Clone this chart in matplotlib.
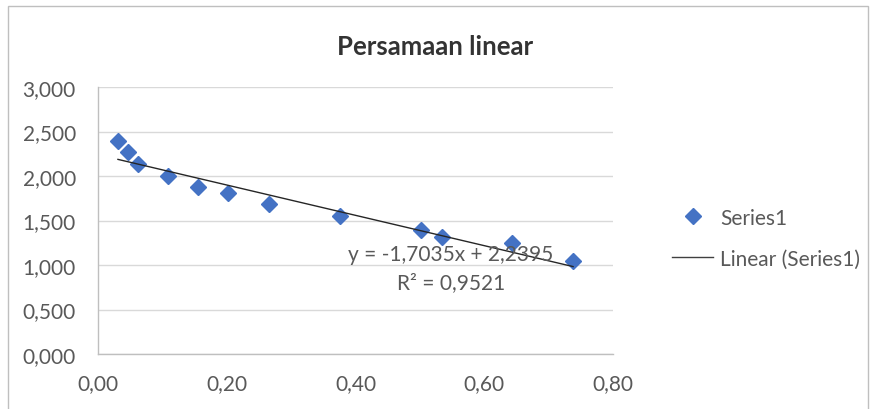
import matplotlib
matplotlib.use("Agg")
import matplotlib.pyplot as plt
from matplotlib.lines import Line2D
from matplotlib.patches import Rectangle
from matplotlib.ticker import FuncFormatter
import numpy as np

plt.rcParams['font.family'] = ['Lato', 'DejaVu Sans']

x_vals = [0.031, 0.047, 0.062, 0.109, 0.155, 0.202, 0.266, 0.376, 0.502, 0.534, 0.643, 0.738]
y_vals = [2.393, 2.270, 2.135, 2.000, 1.876, 1.809, 1.685, 1.551, 1.393, 1.315, 1.247, 1.045]
slope = -1.7035
intercept = 2.2395
eq_text = "y = -1,7035x + 2,2395"
r2_text = "R² = 0,9521"
title = "Persamaan linear"
series_name = "Series1"
trend_name = "Linear (Series1)"

W, H = 873, 410
fig = plt.figure(figsize=(W/100, H/100), dpi=100)
fig.patches.append(Rectangle((8/W, -0.05), (868-8)/W, 1.05 - 7/H, transform=fig.transFigure,
                             fill=False, edgecolor='#bfbfbf', linewidth=1.0))
ax = fig.add_axes([98/W, 1-355/H, (613-98)/W, (355-88)/H])

ax.set_xlim(0, 0.8)
ax.set_ylim(0, 3.0)
ax.set_xticks(np.arange(0, 0.81, 0.2))
ax.set_yticks(np.arange(0, 3.01, 0.5))
ax.xaxis.set_major_formatter(FuncFormatter(lambda v, p: f"{v:.2f}".replace('.', ',')))
ax.yaxis.set_major_formatter(FuncFormatter(lambda v, p: f"{v:.3f}".replace('.', ',')))
ax.grid(axis='y', color='#d9d9d9', linewidth=1.0)
ax.set_axisbelow(True)
for s in ['top', 'right']:
    ax.spines[s].set_visible(False)
for s in ['left', 'bottom']:
    ax.spines[s].set_color('#bfbfbf')
    ax.spines[s].set_linewidth(1.0)
ax.tick_params(length=0, labelsize=15, colors='#595959')
ax.tick_params(axis='x', pad=14)
ax.tick_params(axis='y', pad=16)

ax.plot(x_vals, y_vals, linestyle='none', marker='D', markersize=8, color='#4472C4', zorder=3)
xs = np.array([min(x_vals), max(x_vals)])
ax.plot(xs, slope*xs + intercept, color='#262626', linewidth=1.0, zorder=4)

ax.text(0.547, 1.124, eq_text, ha='center', va='center', fontsize=15, color='#595959', zorder=5)
ax.text(0.549, 0.809, r2_text, ha='center', va='center', fontsize=15, color='#595959', zorder=5)

fig.text(435.5/W, 1-47/H, title, ha='center', va='center', fontsize=18.5, fontweight='bold', color='#333333')

h1 = Line2D([], [], linestyle='none', marker='D', markersize=8, color='#4472C4')
h2 = Line2D([], [], color='#404040', linewidth=1.0)
fig.legend([h1, h2], [series_name, trend_name], loc='center left', bbox_to_anchor=(672/W, 1-239/H),
           frameon=False, fontsize=15, labelcolor='#595959', handlelength=1.97, handletextpad=0.34,
           labelspacing=1.0, borderpad=0, borderaxespad=0)

fig.savefig('out.png', dpi=100)
